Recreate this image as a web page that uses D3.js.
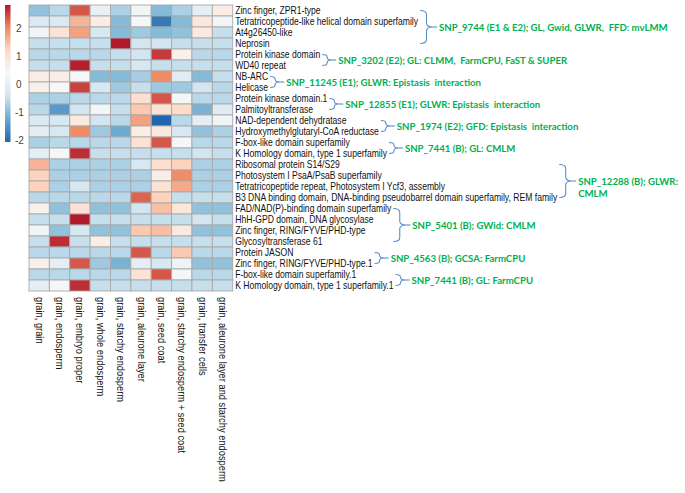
<!DOCTYPE html>
<html><head><meta charset="utf-8">
<script src="https://cdn.jsdelivr.net/npm/d3@7"></script>
<style>body{margin:0;background:#fff}svg{display:block}</style>
</head><body>
<svg id="chart" width="685" height="493"></svg>
<script>
const columns = ["grain, grain","grain, endosperm","grain, embryo proper","grain, whole endosperm","grain, starchy endosperm","grain, aleurone layer","grain, seed coat","grain, starchy endosperm + seed coat","grain, transfer cells","grain, aleurone layer and starchy endosperm"];
const rows = ["Zinc finger, ZPR1-type","Tetratricopeptide-like helical domain superfamily","At4g26450-like","Neprosin","Protein kinase domain","WD40 repeat","NB-ARC","Helicase","Protein kinase domain.1","Palmitoyltransferase","NAD-dependent dehydratase","Hydroxymethylglutaryl-CoA reductase","F-box-like domain superfamily","K Homology domain, type 1 superfamily","Ribosomal protein S14/S29","Photosystem I PsaA/PsaB superfamily","Tetratricopeptide repeat, Photosystem I Ycf3, assembly","B3 DNA binding domain, DNA-binding pseudobarrel domain superfamily, REM family","FAD/NAD(P)-binding domain superfamily","HhH-GPD domain, DNA glycosylase","Zinc finger, RING/FYVE/PHD-type","Glycosyltransferase 61","Protein JASON","Zinc finger, RING/FYVE/PHD-type.1","F-box-like domain superfamily.1","K Homology domain, type 1 superfamily.1"];
const values = [
 [-0.9,-0.6,2.4,0.1,-0.7,0.3,-1.0,-0.7,0.0,0.7],
 [-0.2,-0.2,1.6,0.7,-1.0,0.35,-1.8,-1.0,0.9,0.3],
 [0.3,1.0,1.8,-0.3,-1.0,-0.8,-1.0,-0.9,0.8,-0.5],
 [-0.5,-0.5,-0.5,-0.5,2.85,-0.4,-0.4,-0.5,-0.5,-0.5],
 [-0.6,-0.6,-0.6,-0.6,-0.5,-0.4,2.6,0.6,-0.6,-0.6],
 [-0.5,-0.5,2.8,-0.5,-0.5,-0.3,-0.5,-0.5,-0.5,-0.5],
 [0.7,0.7,0.35,-1.0,-1.0,-0.75,2.0,-0.1,-1.0,-0.5],
 [0.6,0.4,2.55,-0.3,-0.8,-0.5,-0.8,-0.8,-0.4,-0.6],
 [-0.7,-0.7,-0.6,-0.6,-0.6,1.1,2.4,0.35,-0.6,-0.6],
 [-0.6,-1.4,-0.4,0.3,-0.5,1.4,1.0,1.2,-1.1,-0.1],
 [-0.2,-0.3,0.8,-0.4,-0.6,1.8,-2.05,-0.6,0.0,0.3],
 [0.0,-0.3,2.0,-0.8,-1.2,0.7,0.8,-0.3,-0.9,-0.7],
 [-0.7,-0.6,-0.6,-0.6,-0.6,1.0,2.4,0.35,-0.6,-0.6],
 [0.0,0.35,2.7,-0.5,-0.5,-0.5,-0.5,-0.5,-0.4,-0.5],
 [1.6,-0.7,-0.7,-0.7,-0.7,-0.3,1.1,1.3,-0.7,-0.7],
 [1.3,-0.7,-0.7,-0.7,-0.7,-0.7,0.7,2.0,-0.7,-0.7],
 [1.3,-0.7,-0.3,-0.7,-0.7,-0.7,1.0,1.7,-0.7,-0.7],
 [-0.6,-0.6,-0.6,-0.6,-0.6,2.3,1.3,-0.5,-0.5,-0.5],
 [0.6,-0.9,1.0,-0.9,-0.9,-0.4,1.5,0.9,-0.9,-0.9],
 [-0.5,-0.5,2.85,-0.5,-0.5,-0.5,-0.5,-0.5,-0.4,-0.5],
 [0.3,-0.9,-0.3,-0.9,-0.9,1.4,1.5,0.8,-0.9,-0.9],
 [-0.5,2.7,-0.5,0.7,-0.5,-0.5,-0.5,-0.5,-0.5,-0.5],
 [-0.6,-0.6,-0.6,-0.6,-0.6,2.4,-0.6,1.4,-0.6,-0.6],
 [0.6,0.0,2.4,-0.8,-1.1,0.0,-0.3,0.2,-0.9,-0.9],
 [-0.6,-0.6,-0.6,-0.6,-0.6,1.0,2.4,0.35,-0.6,-0.6],
 [0.0,0.35,2.7,-0.5,-0.5,-0.5,-0.5,-0.5,-0.5,-0.5]
];
const legendTicks = [2,1,0,-1,-2];
const groupStart = [0,4,6,8,10,12,14,18,22,24];
const groupEnd   = [3,5,7,9,11,13,17,21,23,25];
const groupText  = [
 ["SNP_9744 (E1 & E2); GL, Gwid, GLWR,  FFD: mvLMM"],
 ["SNP_3202 (E2); GL: CLMM,  FarmCPU, FaST & SUPER"],
 ["SNP_11245 (E1); GLWR: Epistasis  interaction"],
 ["SNP_12855 (E1); GLWR: Epistasis  interaction"],
 ["SNP_1974 (E2); GFD: Epistasis  interaction"],
 ["SNP_7441 (B); GL: CMLM"],
 ["SNP_12288 (B); GLWR:","CMLM"],
 ["SNP_5401 (B); GWid: CMLM"],
 ["SNP_4563 (B); GCSA: FarmCPU"],
 ["SNP_7441 (B); GL: FarmCPU"]
];

const svg = d3.select("#chart");
const gLeft = 29, gTop = 5, cw = 20.37, rh = 11;
const x = d3.scaleBand().domain(d3.range(columns.length)).range([gLeft, gLeft + cw*columns.length]);
const y = d3.scaleBand().domain(d3.range(rows.length)).range([gTop, gTop + rh*rows.length]);

const vmin = -2.05, vmax = 2.85;
const pal = ["#2166ac","#67a9cf","#d1e5f0","#f7f7f7","#fddbc7","#ef8a62","#b2182b"];
const color = d3.scaleLinear().domain(d3.range(7).map(i => vmin + i*(vmax-vmin)/6)).range(pal).interpolate(d3.interpolateRgb).clamp(true);

// cells
const cells = [];
values.forEach((r,i) => r.forEach((v,j) => cells.push({i,j,v})));
svg.append("g").selectAll("rect").data(cells).join("rect")
  .attr("x", d => x(d.j)).attr("y", d => y(d.i))
  .attr("width", x.bandwidth()).attr("height", y.bandwidth())
  .attr("fill", d => color(d.v))
  .attr("stroke", "#a9a9a9").attr("stroke-width", 0.9);

const labFont = "'Liberation Sans',Arial,sans-serif";
const textX0 = gLeft + cw*columns.length + 2.5;

// row labels (narrow look via horizontal scaling)
const rowG = svg.append("g").selectAll("g").data(rows).join("g");
const rl = rowG.append("text")
  .attr("font-family", labFont).attr("font-size", 10.4).attr("fill", "#111")
  .text(d => d);
let longest = 0;
rl.each(function(){ longest = Math.max(longest, this.getComputedTextLength()); });
const fR = 322/longest;
rowG.attr("transform", (d,i) => `translate(${textX0},${y(i) + rh/2 + 3.7}) scale(${fR},1)`);
const widths = [];
rl.each(function(){ widths.push(this.getComputedTextLength()*fR); });

// column labels
const colG = svg.append("g").selectAll("g").data(columns).join("g");
const cl = colG.append("text")
  .attr("font-family", labFont).attr("font-size", 10.4).attr("fill", "#111")
  .text(d => d);
let longestC = 0;
cl.each(function(){ longestC = Math.max(longestC, this.getComputedTextLength()); });
const fC = 185/longestC;
colG.attr("transform", (d,j) => `translate(${x(j) + cw/2 - 3.5},297) rotate(90) scale(${fC},1)`);

// legend
const lg = svg.append("g");
const ly = d3.scaleLinear().domain([vmax, vmin]).range([5, 142]);
const defs = svg.append("defs");
const grad = defs.append("linearGradient").attr("id","lgd").attr("x1",0).attr("x2",0).attr("y1",1).attr("y2",0);
d3.range(0,1.0001,0.05).forEach(t => grad.append("stop").attr("offset", t).attr("stop-color", color(vmin + t*(vmax-vmin))));
lg.append("rect").attr("x",5).attr("y",ly(vmax)).attr("width",5.5).attr("height",ly(vmin)-ly(vmax)).attr("fill","url(#lgd)");
lg.selectAll("text").data(legendTicks).join("text")
  .attr("x", d => d < 0 ? 15 : 16).attr("y", d => ly(d) + 3.5)
  .attr("font-family",labFont).attr("font-size",10).attr("fill","#444")
  .text(d => d);

// brackets and annotations
const ann = svg.append("g");
groupStart.forEach((s,k) => {
  const e = groupEnd[k];
  const maxW = d3.max(d3.range(s, e+1), i => widths[i]);
  const bx = textX0 + maxW + 2;
  const y0 = y(s) + rh/2, y1 = y(e) + rh/2;
  const ym = (y0 + y1)/2;
  const w = (e - s) >= 3 ? 13 : 10;
  const r = Math.min(4, (y1 - y0)/4);
  const hx = bx + w*0.5;
  const path = `M${bx},${y0} Q${hx},${y0} ${hx},${y0+r} L${hx},${ym-r} Q${hx},${ym} ${bx+w},${ym} Q${hx},${ym} ${hx},${ym+r} L${hx},${y1-r} Q${hx},${y1} ${bx},${y1}`;
  ann.append("path").attr("d", path).attr("fill","none").attr("stroke","#5b8ec9").attr("stroke-width",1.1);
  ann.append("line").attr("x1", bx+w).attr("x2", bx+w+4).attr("y1", ym).attr("y2", ym).attr("stroke","#5b8ec9").attr("stroke-width",1.1);
  groupText[k].forEach((t, li) => {
    ann.append("text").attr("x", bx + w + 6).attr("y", ym + 3.5 + li*12)
      .attr("font-family","Lato,'Open Sans',sans-serif").attr("font-weight","bold")
      .attr("font-size",9.6).attr("fill","#00b050")
      .style("white-space","pre").text(t);
  });
});
</script>
</body></html>
